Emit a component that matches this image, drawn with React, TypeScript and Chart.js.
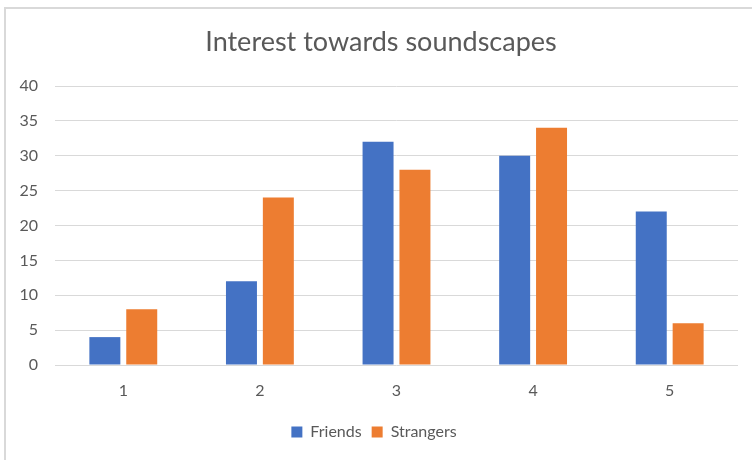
import React, { useEffect, useRef } from "react";
import { Chart, registerables } from "chart.js";

Chart.register(...registerables);

const categories = ["1", "2", "3", "4", "5"];
const friends = [4, 12, 32, 30, 22];
const strangers = [8, 24, 28, 34, 6];
const titleText = "Interest towards soundscapes";

const FONT = "Lato, 'Open Sans', sans-serif";
const TEXT = "#595959";
const GRID = "#d9d9d9";

const framePlugin = {
  id: "frame",
  beforeDraw(chart: any) {
    const ctx = chart.ctx;
    ctx.save();
    ctx.fillStyle = "#ffffff";
    ctx.fillRect(0, 0, chart.width, chart.height);
    ctx.strokeStyle = GRID;
    ctx.lineWidth = 2;
    ctx.strokeRect(5, 8, chart.width + 20, chart.height + 20);
    ctx.restore();
  },
  afterDraw(chart: any) {
    const ctx = chart.ctx;
    ctx.save();
    ctx.fillStyle = TEXT;
    ctx.font = `27px ${FONT}`;
    ctx.textAlign = "center";
    ctx.textBaseline = "middle";
    ctx.fillText(titleText, 381, 42);
    ctx.restore();
  },
};

export default function App() {
  const ref = useRef<HTMLCanvasElement>(null);
  useEffect(() => {
    document.body.style.margin = "0";
    const chart = new Chart(ref.current!, {
      type: "bar",
      data: {
        labels: categories,
        datasets: [
          { label: "Friends", data: friends, backgroundColor: "#4472C4" },
          { label: "Strangers", data: strangers, backgroundColor: "#ED7D31" },
        ],
      },
      options: {
        animation: false,
        responsive: false,
        maintainAspectRatio: false,
        layout: { padding: { left: 10, right: 14, top: 86, bottom: 10 } },
        datasets: { bar: { categoryPercentage: 0.54, barPercentage: 0.84 } },
        plugins: {
          title: { display: false },
          legend: {
            position: "bottom",
            labels: {
              color: TEXT,
              font: { family: FONT, size: 16 },
              boxWidth: 11,
              boxHeight: 11,
              padding: 10,
            },
          },
          tooltip: { enabled: false },
        },
        scales: {
          x: {
            grid: { display: false },
            border: { display: false },
            ticks: { color: TEXT, font: { family: FONT, size: 16 }, padding: 8 },
            afterFit: (s: any) => { s.height = 49; },
          },
          y: {
            min: 0,
            max: 40,
            ticks: { stepSize: 5, color: TEXT, font: { family: FONT, size: 16 }, padding: 17 },
            grid: { color: GRID, drawTicks: false },
            border: { display: false },
            afterFit: (s: any) => { s.width = 45; },
          },
        },
      },
      plugins: [framePlugin],
    });
    return () => chart.destroy();
  }, []);
  return <canvas ref={ref} width={752} height={460} style={{ display: "block" }} />;
}
